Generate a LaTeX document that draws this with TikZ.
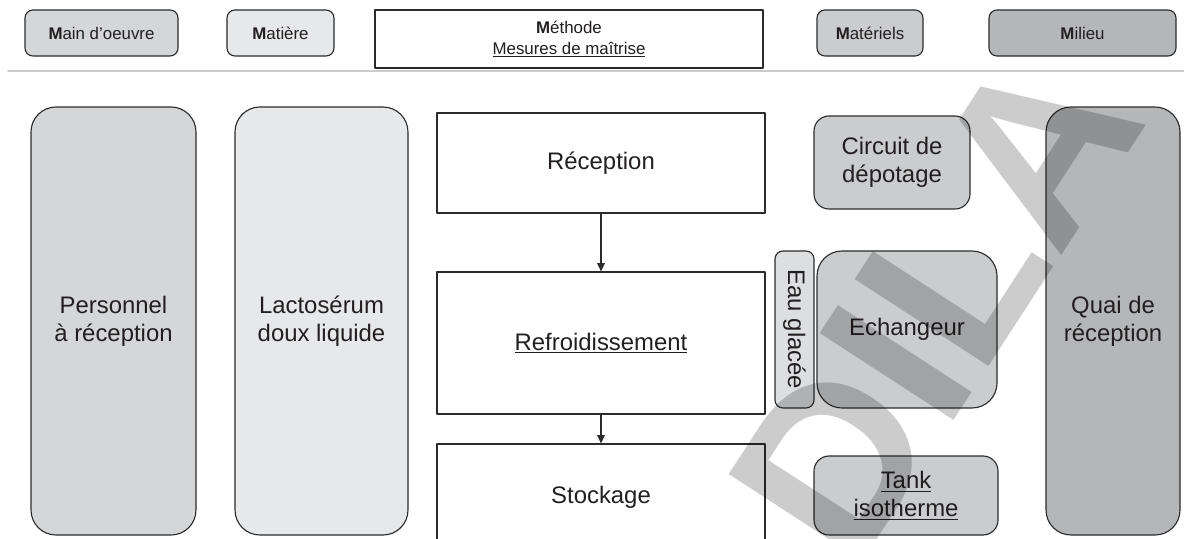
\documentclass[tikz,border=0pt]{standalone}
\usepackage{fontspec}
\setmainfont{Liberation Sans}
\usetikzlibrary{arrows.meta}
\definecolor{lineC}{HTML}{2B2B2B}
\definecolor{textC}{HTML}{231F20}
\definecolor{sepC}{HTML}{CCCCCC}
\definecolor{mainC}{HTML}{D5D6D8}
\definecolor{matiereC}{HTML}{E7E8E9}
\definecolor{materielC}{HTML}{CBCCCE}
\definecolor{milieuC}{HTML}{B5B6B8}
\definecolor{eauC}{HTML}{DDDEE0}
\begin{document}
\begin{tikzpicture}[line cap=round, line join=round, >={Triangle[length=6pt,width=5.5pt]}, font=\fontsize{17}{20}\selectfont, text=textC]
	\tikzset{box/.style={draw=lineC, line width=0.8pt, align=center, inner sep=0pt},
		tab/.style={box, rounded corners=0.2cm, minimum height=1.15cm, font=\fontsize{12}{15}\selectfont},
		block/.style={box, rounded corners=0.625cm, minimum height=10.7cm},
		item/.style={box, rounded corners=0.375cm, fill=materielC},
		step box/.style={box, minimum width=8.2cm}}
	\clip (0,0) rectangle (29.6,-13.45);
	% en-tetes
	\node[tab, fill=mainC, minimum width=3.825cm] (main) at (2.5375,-0.825) {\textbf{M}ain d'oeuvre};
	\node[tab, fill=matiereC, minimum width=2.675cm] (matiere) at (7.0125,-0.825) {\textbf{M}atière};
	\node[tab, sharp corners, fill=white, minimum width=9.7cm, minimum height=1.45cm] (methode) at (14.225,-0.975) {\textbf{M}éthode\\\underline{Mesures de maîtrise}};
	\node[tab, fill=materielC, minimum width=2.65cm] (materiels) at (21.75,-0.825) {\textbf{M}atériels};
	\node[tab, fill=milieuC, minimum width=4.675cm] (milieu) at (27.0625,-0.825) {\textbf{M}ilieu};
	\draw[sepC, line width=0.8pt] (0.2,-1.775) -- (29.6,-1.775);
	% colonnes
	\node[block, fill=mainC, minimum width=4.125cm] (personnel) at (2.8375,-8.025) {Personnel\\à réception};
	\node[block, fill=matiereC, minimum width=4.325cm] (lacto) at (8.0375,-8.025) {Lactosérum\\doux liquide};
	\node[step box, minimum height=2.5cm] (recep) at (15.025,-4.075) {Réception};
	\node[step box, minimum height=3.55cm] (refroid) at (15.025,-8.575) {\underline{Refroidissement}};
	\node[step box, minimum height=2.65cm] (stock) at (15.025,-12.425) {Stockage};
	\draw[->, lineC, line width=0.8pt] (recep) -- (refroid);
	\draw[->, lineC, line width=0.8pt] (refroid) -- (stock);
	\node[item, minimum width=3.9cm, minimum height=2.325cm] (circuit) at (22.3,-4.0625) {Circuit de\\dépotage};
	\node[box, rotate=-90, fill=eauC, rounded corners=0.2cm, minimum width=3.925cm, minimum height=0.975cm] (eau) at (19.8625,-8.2375) {Eau glacée};
	\node[item, rounded corners=0.625cm, minimum width=4.5cm, minimum height=3.925cm] (echangeur) at (22.675,-8.2375) {Echangeur};
	\node[item, minimum width=4.6cm, minimum height=1.975cm] (tank) at (22.65,-12.3875) {\underline{Tank}\\\underline{isotherme}};
	\node[block, fill=milieuC, minimum width=3.35cm] (quai) at (27.825,-8.025) {Quai de\\réception};
	% filigrane
	\node[rotate=57, text=black, opacity=0.2, inner sep=0pt, font=\fontsize{165}{165}\bfseries\selectfont] (dila) at (23.375,-7.6) {DILA};
\end{tikzpicture}
\end{document}
